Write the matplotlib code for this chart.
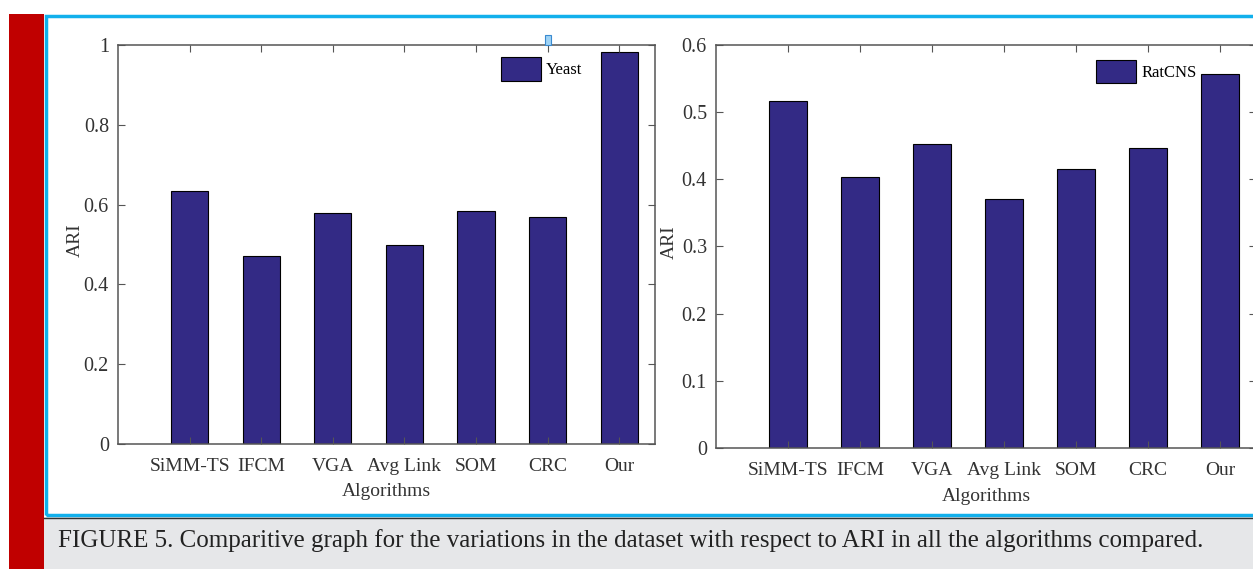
import numpy as np
import matplotlib.pyplot as plt
from matplotlib.patches import Rectangle
from matplotlib.lines import Line2D

# data
algorithms = ["SiMM-TS", "IFCM", "VGA", "Avg Link", "SOM", "CRC", "Our"]
yeast_ari = [0.635, 0.47, 0.58, 0.50, 0.585, 0.57, 0.982]
ratcns_ari = [0.516, 0.403, 0.453, 0.370, 0.415, 0.446, 0.557]
yeast_ticks = [0, 0.2, 0.4, 0.6, 0.8, 1]
ratcns_ticks = [0, 0.1, 0.2, 0.3, 0.4, 0.5, 0.6]
caption = ("FIGURE 5. Comparitive graph for the variations in the dataset "
           "with respect to ARI in all the algorithms compared.")

W, H = 1253, 569
BAR = "#332a85"
plt.rcParams['font.family'] = ['Liberation Serif', 'DejaVu Serif']


def fbox(x0, y0, x1, y1):
    """ pixel box (top-left origin) -> figure fraction [l, b, w, h] """
    return [x0/W, 1 - y1/H, (x1 - x0)/W, (y1 - y0)/H]


def rect(fig, x0, y0, x1, y1, **kw):
    l, b, w, h = fbox(x0, y0, x1, y1)
    fig.add_artist(Rectangle((l, b), w, h, transform=fig.transFigure, **kw))


def panel(fig, box, vals, ticks, label, leg_xy, ylab_x, xlpad):
    ax = fig.add_axes(fbox(*box))
    x = np.arange(1, len(vals) + 1)
    ax.bar(x, vals, width=0.52, color=BAR, edgecolor="black", linewidth=0.8,
           label=label)
    ax.set_xlim(0, 7.5)
    ax.set_ylim(0, ticks[-1])
    ax.set_xticks(x)
    ax.set_xticklabels(algorithms)
    ax.set_yticks(ticks)
    ax.set_yticklabels([f"{t:g}" for t in ticks])
    ax.tick_params(direction="in", top=True, right=True, length=5,
                   colors="#555555", labelcolor="#333333")
    ax.tick_params(axis="y", labelsize=14.5, pad=6.5)
    ax.tick_params(axis="x", labelsize=14, pad=10)
    for s in ax.spines.values():
        s.set_color("#555555")
        s.set_linewidth(1.1)
    ax.set_ylabel("ARI", fontsize=14, color="#333333")
    ax.yaxis.set_label_coords(ylab_x, 0.51)
    ax.set_xlabel("Algorithms", fontsize=14, color="#333333", labelpad=xlpad)
    ax.legend(loc="upper left", bbox_to_anchor=leg_xy, frameon=False,
              fontsize=12, handlelength=2.4, handleheight=1.8,
              handletextpad=0.3, borderpad=0, borderaxespad=0)
    return ax


fig = plt.figure(figsize=(W/100, H/100), dpi=100)
fig.patch.set_facecolor("white")

# page decoration: caption band, red side bar, cyan frame
rect(fig, 44, 517, W, H, facecolor="#e6e7e9", edgecolor="none")
fig.add_artist(Line2D([44/W, 1], [1 - 517.5/H]*2, transform=fig.transFigure,
                      color="#333333", linewidth=1.0))
rect(fig, 9, 14, 44, H, facecolor="#c00000", edgecolor="none")
rect(fig, 46, 16, W + 5, 515, facecolor="none", edgecolor="#12b0ec",
     linewidth=2.5)

panel(fig, (118, 45, 655, 444), yeast_ari, yeast_ticks, "Yeast",
      (0.713, 0.97), (84 - 118)/537, 6)
panel(fig, (716, 45, 1256, 448), ratcns_ari, ratcns_ticks, "RatCNS",
      (0.704, 0.963), (678 - 716)/540, 6.5)

# small blue marker left over in the original figure
rect(fig, 545, 35, 551, 45, facecolor="#9fd3f5", edgecolor="#3a8ad0",
     linewidth=0.8)

fig.text(58/W, 1 - 541/H, caption, fontsize=18, color="#222222",
         va="center", ha="left")

fig.savefig("out.png", dpi=100)
